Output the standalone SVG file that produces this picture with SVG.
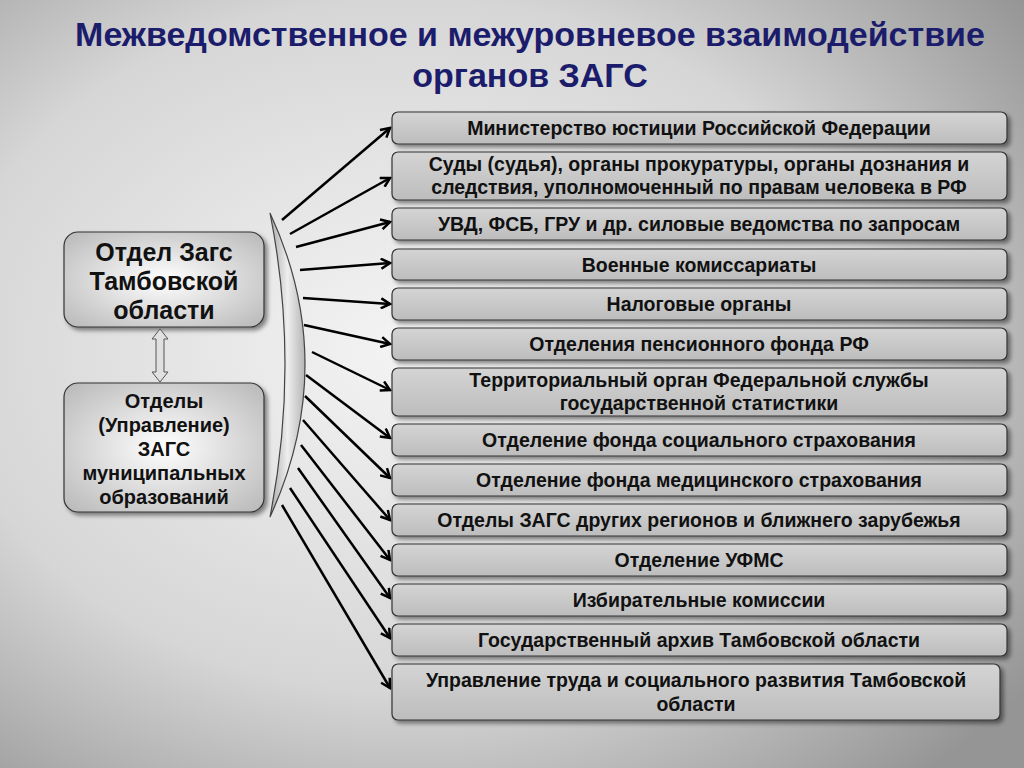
<svg xmlns="http://www.w3.org/2000/svg" width="1024" height="768" viewBox="0 0 1024 768">
<defs>
<radialGradient id="bg" cx="0.4" cy="0.45" r="0.75">
<stop offset="0" stop-color="#f4f4f4"/><stop offset="0.6" stop-color="#d6d6d6"/><stop offset="1" stop-color="#959595"/>
</radialGradient>
<linearGradient id="box" x1="0" y1="0" x2="0" y2="1">
<stop offset="0" stop-color="#d4d4d4"/><stop offset="1" stop-color="#bdbdbd"/>
</linearGradient>
<radialGradient id="lbox" cx="0.5" cy="0.5" r="0.7">
<stop offset="0" stop-color="#ffffff"/><stop offset="1" stop-color="#b8b8b8"/>
</radialGradient>
<linearGradient id="br" x1="0" y1="0" x2="1" y2="0">
<stop offset="0" stop-color="#a8a8a8"/><stop offset="0.5" stop-color="#eeeeee"/><stop offset="1" stop-color="#b4b4b4"/>
</linearGradient>
<marker id="ah" markerWidth="12" markerHeight="12" refX="10" refY="6" orient="auto" markerUnits="userSpaceOnUse">
<path d="M1,1 L10,6 L1,11" fill="none" stroke="#000" stroke-width="2.5"/>
</marker>
<filter id="sh" x="-5%" y="-20%" width="115%" height="150%"><feDropShadow dx="3" dy="3" stdDeviation="2" flood-opacity="0.45"/></filter>
</defs>
<style>
.t{font-family:"Liberation Sans",Arial,sans-serif;font-weight:bold;fill:#111;text-anchor:middle}
.r{font-size:19.5px}
.b{fill:url(#box);stroke:#333;stroke-width:1.2;filter:url(#sh)}
.l{fill:url(#lbox);stroke:#333;stroke-width:1.2;filter:url(#sh)}
.c line{stroke:#000;stroke-width:2.5;marker-end:url(#ah)}
</style>
<rect width="1024" height="768" fill="url(#bg)"/>
<text class="t" x="530" y="46" font-size="34" style="fill:#1c1c6c">Межведомственное и межуровневое взаимодействие</text>
<text class="t" x="530" y="87" font-size="34" style="fill:#1c1c6c">органов ЗАГС</text>

<path d="M270,213 Q340,364 270,517 Q300,364 270,213 Z" fill="url(#br)" stroke="#444" stroke-width="1.2"/>

<g class="c">
<line x1="282" y1="220" x2="390" y2="128"/>
<line x1="290" y1="234" x2="390" y2="178"/>
<line x1="296" y1="247" x2="390" y2="222"/>
<line x1="300" y1="270" x2="390" y2="263"/>
<line x1="303" y1="298" x2="390" y2="304"/>
<line x1="304" y1="325" x2="390" y2="344"/>
<line x1="312" y1="352" x2="390" y2="390"/>
<line x1="306" y1="375" x2="390" y2="438"/>
<line x1="305" y1="396" x2="390" y2="478"/>
<line x1="303" y1="420" x2="390" y2="520"/>
<line x1="301" y1="445" x2="390" y2="560"/>
<line x1="298" y1="468" x2="390" y2="598"/>
<line x1="290" y1="488" x2="390" y2="638"/>
<line x1="282" y1="505" x2="390" y2="688"/>
</g>

<g id="left1"><rect class="l" x="64" y="232" width="200" height="95" rx="14"/>
<text class="t" x="164" y="261" font-size="25">Отдел Загс</text>
<text class="t" x="164" y="290" font-size="25">Тамбовской</text>
<text class="t" x="164" y="319" font-size="25">области</text></g>
<g id="link"><path d="M160,329 L168,339 L164,339 L164,372 L168,372 L160,382 L152,372 L156,372 L156,339 L152,339 Z" fill="#e0e0e0" stroke="#555" stroke-width="1"/></g>
<g id="left2"><rect class="l" x="64" y="383" width="200" height="129" rx="14"/>
<g class="t" font-size="20"><text x="164" y="408">Отделы</text><text x="164" y="432">(Управление)</text><text x="164" y="456">ЗАГС</text><text x="164" y="480">муниципальных</text><text x="164" y="504">образований</text></g></g>

<g id="n1"><rect class="b" x="392" y="112" width="615" height="32" rx="6"/><text class="t r" x="699" y="135">Министерство юстиции Российской Федерации</text></g>
<g id="n2"><rect class="b" x="392" y="152" width="615" height="48" rx="6"/><text class="t r" x="699" y="171">Суды (судья), органы прокуратуры, органы дознания и</text><text class="t r" x="699" y="194">следствия, уполномоченный по правам человека в РФ</text></g>
<g id="n3"><rect class="b" x="392" y="208" width="615" height="32" rx="6"/><text class="t r" x="699" y="231">УВД, ФСБ, ГРУ и др. силовые ведомства по запросам</text></g>
<g id="n4"><rect class="b" x="392" y="249" width="615" height="31" rx="6"/><text class="t r" x="699" y="272">Военные комиссариаты</text></g>
<g id="n5"><rect class="b" x="392" y="288" width="615" height="32" rx="6"/><text class="t r" x="699" y="311">Налоговые органы</text></g>
<g id="n6"><rect class="b" x="392" y="328" width="615" height="32" rx="6"/><text class="t r" x="699" y="351">Отделения пенсионного фонда РФ</text></g>
<g id="n7"><rect class="b" x="392" y="368" width="615" height="48" rx="6"/><text class="t r" x="699" y="387">Территориальный орган Федеральной службы</text><text class="t r" x="699" y="410">государственной статистики</text></g>
<g id="n8"><rect class="b" x="392" y="424" width="615" height="32" rx="6"/><text class="t r" x="699" y="447">Отделение фонда социального страхования</text></g>
<g id="n9"><rect class="b" x="392" y="464" width="615" height="32" rx="6"/><text class="t r" x="699" y="487">Отделение фонда медицинского страхования</text></g>
<g id="n10"><rect class="b" x="392" y="504" width="615" height="32" rx="6"/><text class="t r" x="699" y="527">Отделы ЗАГС других регионов и ближнего зарубежья</text></g>
<g id="n11"><rect class="b" x="392" y="544" width="615" height="32" rx="6"/><text class="t r" x="699" y="567">Отделение УФМС</text></g>
<g id="n12"><rect class="b" x="392" y="584" width="615" height="32" rx="6"/><text class="t r" x="699" y="607">Избирательные комиссии</text></g>
<g id="n13"><rect class="b" x="392" y="624" width="615" height="32" rx="6"/><text class="t r" x="699" y="647">Государственный архив Тамбовской области</text></g>
<g id="n14"><rect class="b" x="392" y="664" width="608" height="56" rx="6"/><text class="t r" x="696" y="687">Управление труда и социального развития Тамбовской</text><text class="t r" x="696" y="711">области</text></g>
</svg>
